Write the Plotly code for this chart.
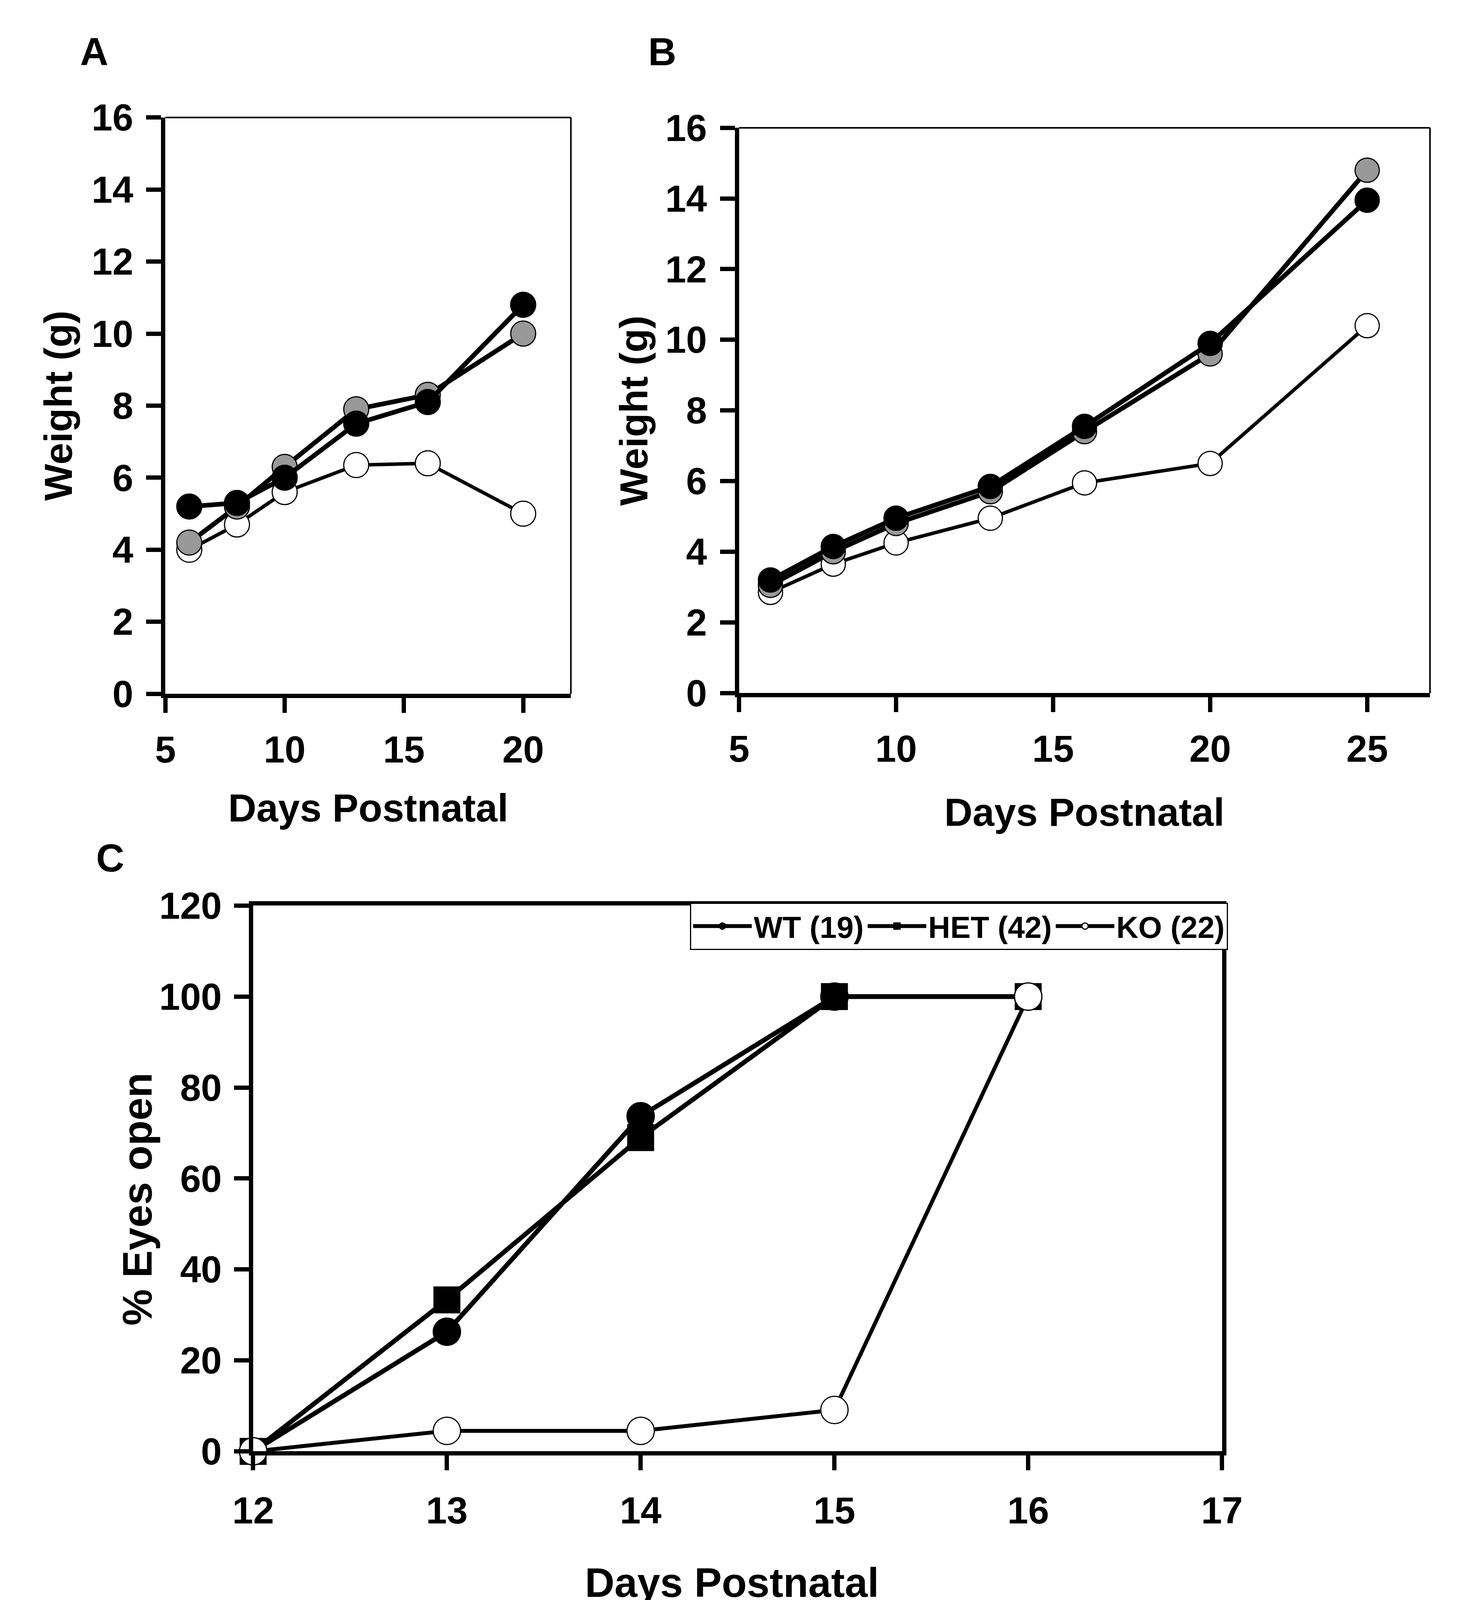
import plotly.graph_objects as go

# Panel A - weight, first cohort
a_days = [6, 8, 10, 13, 16, 20]
a_black = [5.2, 5.3, 6.0, 7.5, 8.1, 10.8]
a_gray = [4.2, 5.2, 6.3, 7.9, 8.3, 10.0]
a_white = [4.0, 4.7, 5.6, 6.35, 6.4, 5.0]

# Panel B - weight, second cohort
b_days = [6, 8, 10, 13, 16, 20, 25]
b_black = [3.2, 4.15, 4.95, 5.85, 7.55, 9.9, 13.95]
b_gray = [3.05, 4.0, 4.8, 5.7, 7.4, 9.6, 14.8]
b_white = [2.85, 3.65, 4.25, 4.95, 5.95, 6.5, 10.4]

# Panel C - % eyes open
c_days = [12, 13, 14, 15, 16]
c_wt = [0, 26.3, 73.7, 100, 100]
c_het = [0, 33.3, 69.0, 100, 100]
c_ko = [0, 4.5, 4.5, 9.1, 100]
c_names = ["WT (19)", "HET (42)", "KO (22)"]

# Panel D - % ears open
d_days = [15, 16, 17, 18, 19, 20, 21]
d_wt = [0, 87.5, 100, 100, 100, 100, 100]
d_het = [0, 58.8, 100, 100, 100, 100, 100]
d_ko = [0, 0, 0, 0, 62.5, 75, 100]
d_names = ["WT (8)", "HET (17)", "KO (8)"]

W, H = 3742, 6070
FONT = "Liberation Sans, Arial, sans-serif"


def fx(p):
    return p / W


def fy(p):
    return 1 - p / H


fig = go.Figure()


def add_series(x, y, xa, ya, fill, symbol, name, size, lw, legend=None):
    fig.add_trace(go.Scatter(
        x=x, y=y, xaxis=xa, yaxis=ya, name=name, mode="lines+markers",
        line=dict(color="black", width=lw),
        marker=dict(symbol=symbol, size=size, color=fill,
                    line=dict(color="black", width=3)),
        cliponaxis=False,
        showlegend=legend is not None,
        legend=legend if legend else "legend",
    ))


# A
add_series(a_days, a_white, "x", "y", "white", "circle", "KO", 64, 9)
add_series(a_days, a_gray, "x", "y", "#999999", "circle", "HET", 64, 12)
add_series(a_days, a_black, "x", "y", "black", "circle", "WT", 64, 12)
# B
add_series(b_days, b_white, "x2", "y2", "white", "circle", "KO", 62, 9)
add_series(b_days, b_gray, "x2", "y2", "#999999", "circle", "HET", 62, 12)
add_series(b_days, b_black, "x2", "y2", "black", "circle", "WT", 62, 12)
# C
add_series(c_days, c_wt, "x3", "y3", "black", "circle", c_names[0], 70, 12, "legend")
add_series(c_days, c_het, "x3", "y3", "black", "square", c_names[1], 66, 12, "legend")
add_series(c_days, c_ko, "x3", "y3", "white", "circle", c_names[2], 70, 10, "legend")
# D
add_series(d_days, d_wt, "x4", "y4", "black", "circle", d_names[0], 70, 12, "legend2")
add_series(d_days, d_het, "x4", "y4", "black", "square", d_names[1], 66, 12, "legend2")
add_series(d_days, d_ko, "x4", "y4", "white", "circle", d_names[2], 70, 10, "legend2")


def axis(domain, rng, tickvals, anchor, standoff, mirror=False):
    return dict(
        domain=domain, range=rng, tickvals=tickvals, anchor=anchor,
        showline=True, linecolor="black", linewidth=11, mirror=mirror,
        ticks="outside", ticklen=38, tickwidth=11, tickcolor="black",
        showgrid=False, zeroline=False,
        tickfont=dict(family=FONT, size=96, color="black", weight="bold"),
        ticklabelstandoff=standoff,
    )


fig.update_layout(
    width=W, height=H,
    margin=dict(l=0, r=0, t=0, b=0),
    paper_bgcolor="white", plot_bgcolor="white",
    xaxis=axis([fx(373), fx(1441)], [5, 22], [5, 10, 15, 20], "y", 12),
    yaxis=axis([fy(1746), fy(244)], [0, 16], list(range(0, 17, 2)), "x", 14),
    xaxis2=axis([fx(1884), fx(3704)], [5, 27], [5, 10, 15, 20, 25], "y2", 12),
    yaxis2=axis([fy(1744), fy(271)], [0, 16], list(range(0, 17, 2)), "x2", 14),
    xaxis3=axis([fx(604), fx(3156)], [12, 17], [12, 13, 14, 15, 16, 17], "y3", 20, True),
    yaxis3=axis([fy(3720), fy(2298)], [0, 120], list(range(0, 121, 20)), "x3", 12, True),
    xaxis4=axis([fx(661), fx(3187)], [15, 22], [15, 17, 19, 21], "y4", 20, True),
    yaxis4=axis([fy(5701), fy(4246)], [0, 120], list(range(0, 121, 20)), "x4", 12, True),
    legend=dict(
        orientation="h", x=fx(3172), y=fy(2290), xanchor="right", yanchor="top",
        bgcolor="white", bordercolor="black", borderwidth=3, itemwidth=150,
        font=dict(family=FONT, size=78, color="black", weight="bold"),
    ),
    legend2=dict(
        orientation="h", x=fx(3194), y=fy(4241), xanchor="right", yanchor="top",
        bgcolor="white", bordercolor="black", borderwidth=3, itemwidth=150,
        font=dict(family=FONT, size=78, color="black", weight="bold"),
    ),
)

# thin top/right frame on A and B
for xr, yr in [("x", "y"), ("x2", "y2")]:
    fig.add_shape(type="line", xref=xr + " domain", yref=yr + " domain",
                  x0=0, x1=1, y0=1, y1=1, line=dict(color="black", width=4))
    fig.add_shape(type="line", xref=xr + " domain", yref=yr + " domain",
                  x0=1, x1=1, y0=0, y1=1, line=dict(color="black", width=4))


def label(text, x, y, size, angle=0):
    fig.add_annotation(text=text, x=fx(x), y=fy(y), xref="paper", yref="paper",
                       showarrow=False, textangle=angle, xanchor="center", yanchor="middle",
                       font=dict(family=FONT, size=size, color="black", weight="bold"))


# panel letters
label("A", 185, 72, 100)
label("B", 1682, 72, 100)
label("C", 227, 2173, 100)
label("D", 263, 4144, 100)

# axis titles
label("Weight (g)", 91, 995, 100, -90)
label("Weight (g)", 1607, 1008, 100, -90)
label("Days Postnatal", 907, 2043, 100)
label("Days Postnatal", 2794, 2054, 100)
label("% Eyes open", 298, 3063, 105, -90)
label("Days Postnatal", 1865, 4062, 105)
label("% Ears open", 352, 5013, 105, -90)
label("Days Postnatal", 1898, 5998, 105)

fig.write_html("out.html")
